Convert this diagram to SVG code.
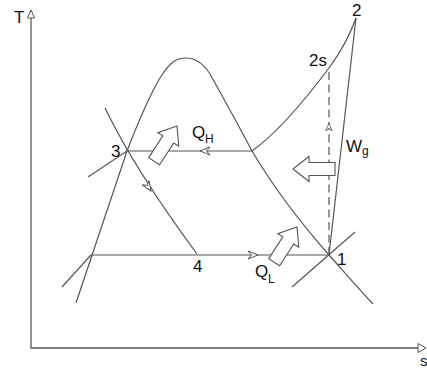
<svg xmlns="http://www.w3.org/2000/svg" width="427" height="373" viewBox="0 0 427 373">
<style>
  .ln{fill:none;stroke:#555;stroke-width:1.2}
  .ax{fill:none;stroke:#555;stroke-width:1.3}
  .ah{fill:#fff;stroke:#555;stroke-width:1}
  .blk{fill:#fff;stroke:#555;stroke-width:1.1}
  .t{font-family:"Liberation Sans",Arial,sans-serif;font-size:17px;fill:#111}
  .sub{font-family:"Liberation Sans",Arial,sans-serif;font-size:12px;fill:#111}
</style>
<defs>
  <path id="chev" d="M0,0 L-10,-4 L-6.5,0 L-10,4 Z"/>
  <path id="blkarrow" d="M0,0 L-16,-12.5 L-16,-6.5 L-42,-6.5 L-42,6.5 L-16,6.5 L-16,12.5 Z"/>
</defs>
<rect width="427" height="373" fill="#fff"/>

<g id="axes">
  <path class="ax" d="M31,18 L31,348 L418,348"/>
  <polygon class="ah" points="31,10 27.5,18 34.5,18"/>
  <polygon class="ah" points="426,348 418,343.5 418,352.5"/>
  <text class="t" x="14" y="23">T</text>
  <text class="t" x="420" y="366" style="font-size:15px">s</text>
</g>

<g id="connectors">
  <!-- saturation dome -->
  <path class="ln" d="M76,303 L127,151 C137,125 150,95 160,78 C170,62 176,58 186,58 C196,58 203,63 210,74 C220,92 240,128 252,151 C275,190 300,222 329,255 C345,273 358,288 373,304"/>
  <!-- superheated isobar to 2s and 2 -->
  <path class="ln" d="M252,151 C276,134 305,100 329,68 C340,53 350,35 356,18"/>
  <!-- condensation line -->
  <path class="ln" d="M127,151 L252,151"/>
  <!-- evaporation line -->
  <path class="ln" d="M91,255 L329,255"/>
  <!-- throttling 3-4 -->
  <path class="ln" d="M105,108 Q135,170 197,254"/>
  <!-- real compression 1-2 -->
  <path class="ln" d="M329,255 L356,18"/>
  <!-- isentropic 1-2s -->
  <path class="ln" d="M329,255 L329,68" stroke-dasharray="8,4.5"/>
  <!-- short isobars -->
  <path class="ln" d="M292,287 L355,232"/>
  <path class="ln" d="M88,177 L127,151"/>
  <path class="ln" d="M62,287 L91,255"/>
  <!-- direction chevrons -->
  <use href="#chev" class="ah" transform="translate(200,151) rotate(180)"/>
  <use href="#chev" class="ah" transform="translate(258,255)"/>
  <use href="#chev" class="ah" transform="translate(151,191) rotate(57)"/>
  <use href="#chev" class="ah" transform="translate(329,123) rotate(-90) scale(0.8)"/>
</g>

<g id="heat-arrows">
  <use href="#blkarrow" class="blk" transform="translate(177,126) rotate(-57)"/>
  <use href="#blkarrow" class="blk" transform="translate(297,227) rotate(-57)"/>
  <use href="#blkarrow" class="blk" transform="translate(293,169) rotate(180)"/>
</g>

<g id="node-1"><text class="t" x="337" y="265">1</text></g>
<g id="node-2"><text class="t" x="352" y="16">2</text></g>
<g id="node-2s"><text class="t" x="309" y="66">2s</text></g>
<g id="node-3"><text class="t" x="111" y="157">3</text></g>
<g id="node-4"><text class="t" x="193" y="272">4</text></g>
<g id="label-QH"><text class="t" x="192" y="138">Q</text><text class="sub" x="205" y="143">H</text></g>
<g id="label-QL"><text class="t" x="255" y="277">Q</text><text class="sub" x="268" y="283">L</text></g>
<g id="label-Wg"><text class="t" x="346" y="152">W</text><text class="sub" x="362" y="155">g</text></g>
</svg>
